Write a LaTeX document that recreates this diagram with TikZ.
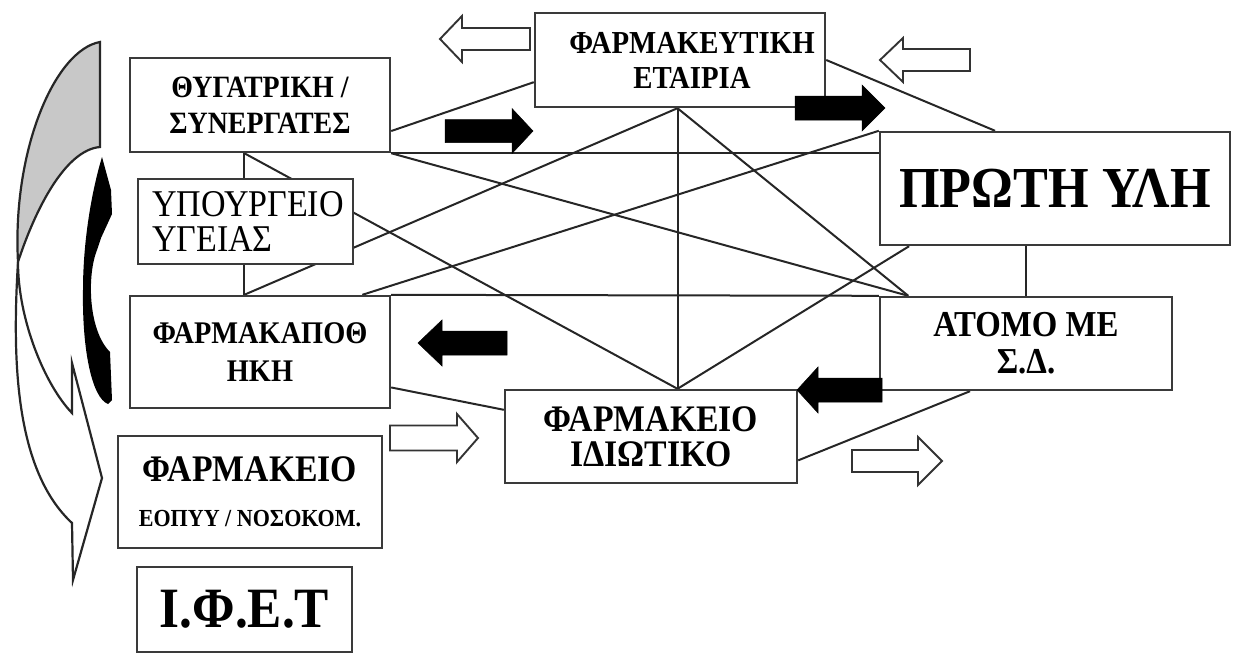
\documentclass[tikz,border=0pt]{standalone}
\usepackage{fontspec}
\setmainfont{Liberation Serif}[FakeStretch=0.9]
\usetikzlibrary{calc}
\pgfdeclarelayer{bg}
\pgfsetlayers{bg,main}
\definecolor{boxgray}{HTML}{3A3A3A}
\definecolor{ribbongray}{HTML}{C8C8C8}
\newcommand{\fs}[2]{\fontsize{#1}{#2}\selectfont}
\newcommand{\blkarrow}[7]{\path[#1] (#2,#4-#5) -- (#7,#4-#5) -- (#7,#4-#6) -- (#3,#4) -- (#7,#4+#6) -- (#7,#4+#5) -- (#2,#4+#5) -- cycle;}
\tikzset{
  box/.style={draw=boxgray, line width=2.4pt, fill=white, inner sep=0pt, align=center},
  conn/.style={draw=black!85, line width=2pt},
  openarr/.style={draw=black!80, line width=1.9pt, fill=white, line join=miter},
  solidarr/.style={fill=black, draw=black, line width=0.5pt, line join=miter},
  ribbon/.style={draw=black!85, line width=2.2pt, line join=miter}
}
\begin{document}
\begin{tikzpicture}[x=1pt, y=-1pt]
\useasboundingbox (0,0) rectangle (1241,656);

% left curved ribbon arrow
\path[ribbon, fill=ribbongray] (100,42) .. controls (55,50) and (12,150) .. (18,262)
  .. controls (35,210) and (65,150) .. (100,147) -- cycle;
\path[ribbon, fill=white] (18,262) .. controls (12,360) and (15,470) .. (72,523)
  -- (73,580) -- (102,478) -- (72,363) -- (72,413)
  .. controls (45,385) and (18,320) .. (18,262) -- cycle;
\path[fill=black] (102,157) -- (111,190) -- (112,214) -- (101,238) -- (97,250)
  .. controls (87,275) and (88,330) .. (110,352) -- (112,400) -- (108,404)
  .. controls (92,398) and (82,350) .. (83,290)
  .. controls (83,240) and (92,190) .. (102,157) -- cycle;

% boxes
\node[box, minimum width=260pt, minimum height=94pt, font=\bfseries\fs{31}{36}] (thyg) at (260,105) {ΘΥΓΑΤΡΙΚΗ /\\ΣΥΝΕΡΓΑΤΕΣ};
\node[box, minimum height=85pt, text width=187pt, inner xsep=14pt, align=left, font=\fs{37.8}{35}] (ypo) at (245.5,221.5) {ΥΠΟΥΡΓΕΙΟ\\ΥΓΕΙΑΣ};
\node[box, minimum width=260pt, minimum height=112pt, font=\bfseries\fs{31.5}{38}] (apoth) at (260,352) {\raisebox{-6pt}{ΦΑΡΜΑΚΑΠΟΘ}\\\raisebox{-6pt}{ΗΚΗ}};
\node[box, minimum width=264pt, minimum height=112pt, font=\bfseries\fs{37.5}{45}] (eopyy) at (250,492) {ΦΑΡΜΑΚΕΙΟ\\{\fs{24.5}{45}ΕΟΠΥΥ / ΝΟΣΟΚΟΜ.}};
\node[box, minimum width=215pt, minimum height=85pt, font=\bfseries\fs{57}{60}] (ifet) at (244.5,609.5) {Ι.Φ.Ε.Τ};
\node[box, minimum width=290pt, minimum height=94pt, font=\bfseries\fs{32}{35}] (etair) at (680,60) {\hspace*{24pt}ΦΑΡΜΑΚΕΥΤΙΚΗ\\\hspace*{24pt}ΕΤΑΙΡΙΑ};
\node[box, minimum width=350pt, minimum height=113pt, font=\bfseries\fs{58}{60}] (proti) at (1055,188.5) {ΠΡΩΤΗ ΥΛΗ};
\node[box, minimum width=292pt, minimum height=93pt, font=\bfseries\fs{36.5}{37}] (atomo) at (1026,343.5) {ΑΤΟΜΟ ΜΕ\\Σ.Δ.};
\node[box, minimum width=292pt, minimum height=93pt, font=\bfseries\fs{37.5}{35}] (idiot) at (651,436.5) {ΦΑΡΜΑΚΕΙΟ\\ΙΔΙΩΤΙΚΟ};

% connection points
\coordinate (thygB) at ($(thyg.south west)!0.44!(thyg.south east)$);
\coordinate (apothT) at (thygB |- apoth.north);
\coordinate (idiotT) at ($(idiot.north west)!0.59!(idiot.north east)$);
\coordinate (etairB) at (idiotT |- etair.south);
\coordinate (atomoT) at ($(atomo.north west)!0.10!(atomo.north east)$);

\begin{pgfonlayer}{bg}
\draw[conn] ($(etair.north west)!0.73!(etair.south west)$) -- ($(thyg.north east)!0.77!(thyg.south east)$);
\draw[conn] (etair.east) -- ($(proti.north west)!0.33!(proti.north east)$);
\draw[conn] (etairB) -- (idiotT);
\draw[conn] (etairB) -- (apothT);
\draw[conn] (etairB) -- (atomoT);
\draw[conn] (thyg.south east) -- (thyg.south east -| proti.west);
\draw[conn] (thyg.south east) -- (atomoT);
\draw[conn] (thygB) -- (apothT);
\draw[conn] (thygB) -- (idiotT);
\draw[conn] ($(apoth.north west)!0.89!(apoth.north east)$) -- (proti.north west);
\draw[conn] (apoth.north east) -- (atomo.north west);
\draw[conn] ($(apoth.north east)!0.81!(apoth.south east)$) -- ($(idiot.north west)!0.22!(idiot.south west)$);
\draw[conn] ($(proti.south west)!0.086!(proti.south east)$) -- (idiotT);
\draw[conn] (atomo.north |- proti.south) -- (atomo.north);
\draw[conn] ($(atomo.south west)!0.31!(atomo.south east)$) -- ($(idiot.north east)!0.75!(idiot.south east)$);
\end{pgfonlayer}

% block arrows
\blkarrow{openarr}{530}{440}{39}{11}{23}{462}
\blkarrow{openarr}{970}{880}{60}{11}{22}{903}
\blkarrow{solidarr}{445}{533}{131}{11.5}{22.5}{512}
\blkarrow{solidarr}{795}{885}{108}{12}{23}{862}
\blkarrow{solidarr}{507}{418}{343}{12}{23}{442}
\blkarrow{solidarr}{882}{797}{390}{12}{23}{818}
\blkarrow{openarr}{390}{478}{438}{12.5}{24}{457}
\blkarrow{openarr}{852}{942}{461}{11}{24}{918}
\end{tikzpicture}
\end{document}
